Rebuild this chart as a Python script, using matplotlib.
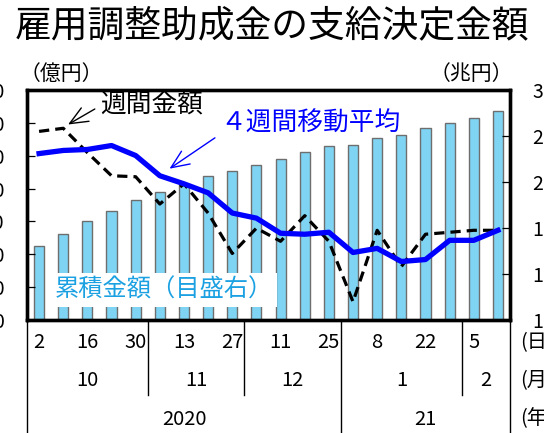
import matplotlib
matplotlib.use('Agg')
import matplotlib.pyplot as plt
import numpy as np

plt.rcParams['font.family'] = ['Noto Sans CJK JP', 'DejaVu Sans']

# weekly data, 2020/10/2 - 2021/2/12
days = [2, 9, 16, 23, 30, 6, 13, 20, 27, 4, 11, 18, 25, 1, 8, 15, 22, 29, 5, 12]
month_labels = ['10', '11', '12', '1', '2']
month_weeks = [5, 4, 4, 5, 2]
year_labels = ['2020', '21']
year_weeks = [13, 7]

# cumulative amount (trillion yen, right axis)
cumulative = [1.64, 1.75, 1.86, 1.95, 2.04, 2.11, 2.18, 2.25, 2.30, 2.35,
              2.40, 2.46, 2.51, 2.52, 2.58, 2.61, 2.67, 2.71, 2.76, 2.82]
# weekly amount (100 million yen, left axis)
weekly = [1148, 1167, 1019, 878, 872, 706, 829, 651, 405, 559,
          479, 635, 479, 111, 546, 325, 522, 534, 546, 546]
# 4-week moving average
moving_avg = [1013, 1032, 1038, 1062, 1001, 878, 829, 774, 651, 620,
              528, 522, 534, 411, 436, 356, 368, 485, 485, 546]

x = np.arange(len(days))
W, H = 544, 433
fig = plt.figure(figsize=(W / 100, H / 100), dpi=100)

# main axes: bars on the right scale, lines on the left scale
ax = fig.add_axes([27 / W, 113 / H, 483 / W, 230 / H])
ax.bar(x, cumulative, width=0.42, color='#7FD4F3', edgecolor='#6E6E6E', linewidth=1)
ax.set_xlim(-0.5, len(days) - 0.5)
ax.set_ylim(1.0, 3.0)
ax.set_yticks(np.arange(1.0, 3.01, 0.4))
ax.set_yticklabels(['%.1f' % v for v in np.arange(1.0, 3.01, 0.4)])

ax2 = ax.twinx()
ax2.plot(x, weekly, color='black', lw=2.3, ls=(0, (3.2, 1.9)))
ax2.plot(x, moving_avg, color='#0000FF', lw=3.8)
ax2.set_ylim(0, 1400)
ax2.set_yticks(np.arange(0, 1401, 200))

ax.yaxis.tick_right()
ax2.yaxis.tick_left()
ax.tick_params(axis='y', direction='in', length=6, width=0.9, pad=16, labelsize=14,
               right=True, left=False, labelright=True, labelleft=False)
ax2.tick_params(axis='y', direction='in', length=6, width=0.9, pad=16, labelsize=14,
                left=True, right=False, labelleft=True, labelright=False)
for a in (ax, ax2):
    a.set_xticks([])
    for s in a.spines.values():
        s.set_linewidth(2.4)

# labels
fig.text(0.5, 1 - 26 / H, '雇用調整助成金の支給決定金額', ha='center', va='center', fontsize=26.5)
fig.text(61 / W, 1 - 74 / H, '（億円）', ha='center', va='center', fontsize=15)
fig.text(471 / W, 1 - 74 / H, '（兆円）', ha='center', va='center', fontsize=15)

ax2.annotate('週間金額', xy=(1.2, 1190), xycoords='data',
             xytext=(100 / W, 1 - 106 / H), textcoords='figure fraction',
             ha='left', va='center', fontsize=18.5,
             arrowprops=dict(arrowstyle='->,head_length=0.7,head_width=0.3', color='black',
                             lw=1, relpos=(0, 0.5), shrinkA=2, shrinkB=0))
ax2.annotate('４週間移動平均', xy=(5.4, 921), xycoords='data',
             xytext=(220 / W, 1 - 124 / H), textcoords='figure fraction',
             ha='left', va='center', fontsize=18.5, color='#0000FF',
             arrowprops=dict(arrowstyle='->,head_length=0.7,head_width=0.3', color='#0000FF',
                             lw=1, relpos=(0, 0.1), shrinkA=2, shrinkB=0))
ax.text(55 / W, 1 - 290 / H, '累積金額（目盛右）', transform=fig.transFigure,
        ha='left', va='center', fontsize=17.5, color='#1BA1E2', zorder=5,
        bbox=dict(facecolor='white', edgecolor='none', pad=3))

# date table below the chart
tax = fig.add_axes([27 / W, 0, 483 / W, 113 / H])
tax.set_xlim(-0.5, len(days) - 0.5)
tax.set_ylim(0, 1)
tax.axis('off')
for i in range(0, len(days), 2):
    tax.text(x[i], 0.80, str(days[i]), ha='center', va='center', fontsize=14.5)

edges = np.concatenate([[0], np.cumsum(month_weeks)]) - 0.5
for lab, a, b in zip(month_labels, edges[:-1], edges[1:]):
    tax.text((a + b) / 2, 0.465, lab, ha='center', va='center', fontsize=14.5)
yedges = np.concatenate([[0], np.cumsum(year_weeks)]) - 0.5
for lab, a, b in zip(year_labels, yedges[:-1], yedges[1:]):
    tax.text((a + b) / 2, 0.12, lab, ha='center', va='center', fontsize=14.5)
for e in edges:
    bottom = 0 if e in yedges else 0.34
    tax.plot([e, e], [bottom, 0.985], color='black', lw=1, clip_on=False)

for lab, yp in zip(['(日)', '(月)', '(年)'], [343, 381, 419]):
    fig.text(520 / W, 1 - yp / H, lab, ha='left', va='center', fontsize=14.5)

fig.savefig('out.png', dpi=100)
